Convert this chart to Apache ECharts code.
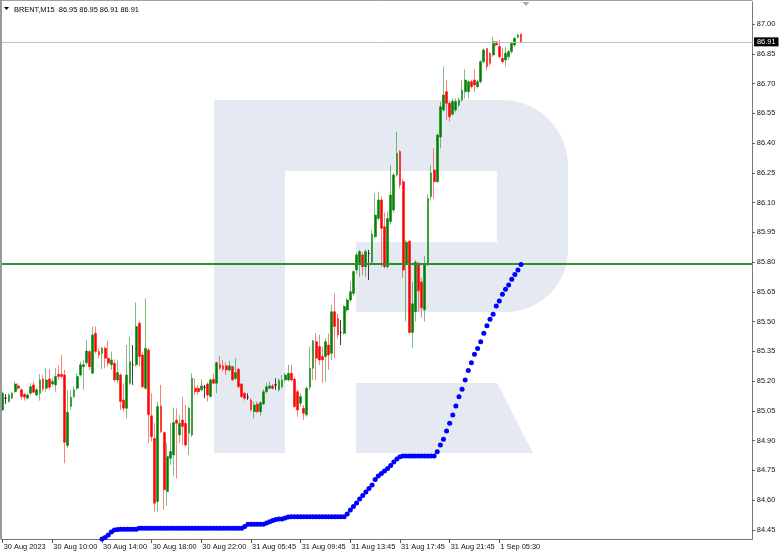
<!DOCTYPE html>
<html><head><meta charset="utf-8">
<script src="https://cdn.jsdelivr.net/npm/echarts@6/dist/echarts.min.js"></script>
<style>html,body{margin:0;padding:0;background:#fff}#c{width:782px;height:555px}</style>
</head><body><div id="c"></div>
<script>
// ---- data ----
const symbolName = 'BRENT,M15';
const tickLabels = ['30 Aug 2023','30 Aug 10:00','30 Aug 14:00','30 Aug 18:00','30 Aug 22:00','31 Aug 05:45','31 Aug 09:45','31 Aug 13:45','31 Aug 17:45','31 Aug 21:45','1 Sep 05:30'];
const barsPerTick = 16;
const slotCount = 242; // bars + right-side chart shift
const priceTicks = [84.45,84.60,84.75,84.90,85.05,85.20,85.35,85.50,85.65,85.80,85.95,86.10,86.25,86.40,86.55,86.70,86.85,87.00];
const levelLine = 85.793;

const open = [
85.055,85.114,85.097,85.114,85.147,85.176,85.156,85.134,
85.114,85.139,85.181,85.130,85.139,85.211,85.164,85.211,
85.186,85.181,85.234,85.234,85.231,84.875,85.072,85.122,
85.164,85.231,85.273,85.293,85.349,85.240,85.441,85.349,
85.340,85.366,85.315,85.282,85.290,85.206,85.231,85.105,
85.063,85.189,85.282,85.282,85.492,85.332,85.164,85.357,
85.025,84.912,84.593,85.075,84.941,84.643,84.811,84.828,
85.004,84.929,85.004,84.988,84.937,84.929,85.164,85.164,
85.156,85.169,85.186,85.122,85.209,85.189,85.282,85.277,
85.277,85.256,85.273,85.214,85.260,85.186,85.139,85.119,
85.105,85.046,85.085,85.046,85.085,85.147,85.164,85.176,
85.181,85.156,85.172,85.206,85.206,85.240,85.209,85.147,
85.088,85.063,85.030,85.169,85.265,85.399,85.374,85.324,
85.324,85.382,85.340,85.550,85.517,85.445,85.441,85.559,
85.609,85.642,85.760,85.794,85.836,85.777,85.844,85.800,
85.928,86.020,86.113,85.978,85.777,86.004,86.062,86.239,
86.357,86.205,85.790,85.905,85.445,85.550,85.785,85.700,
85.560,85.790,86.130,86.264,86.205,86.430,86.567,86.659,
86.600,86.545,86.567,86.592,86.617,86.659,86.659,86.709,
86.718,86.684,86.709,86.810,86.877,86.852,86.844,86.911,
86.886,86.827,86.819,86.835,86.861,86.894,86.933,86.950];
const high = [
85.147,85.135,85.139,85.147,85.198,85.189,85.164,85.139,
85.139,85.189,85.198,85.164,85.236,85.231,85.265,85.260,
85.214,85.265,85.277,85.332,85.256,85.156,85.156,85.172,
85.240,85.298,85.307,85.408,85.357,85.475,85.475,85.366,
85.374,85.374,85.404,85.349,85.310,85.307,85.240,85.189,
85.382,85.424,85.382,85.596,85.500,85.349,85.618,85.366,
85.139,84.988,85.097,85.181,84.946,84.887,84.988,85.067,
85.063,85.030,85.122,85.080,85.072,85.240,85.214,85.180,
85.209,85.181,85.193,85.214,85.236,85.298,85.327,85.307,
85.293,85.303,85.277,85.315,85.265,85.189,85.147,85.139,
85.114,85.097,85.097,85.097,85.159,85.193,85.198,85.186,
85.214,85.214,85.231,85.240,85.282,85.282,85.223,85.156,
85.139,85.080,85.172,85.374,85.408,85.441,85.433,85.374,
85.416,85.441,85.584,85.643,85.542,85.508,85.584,85.618,
85.702,85.760,85.845,85.860,85.848,85.866,85.861,85.960,
86.146,86.155,86.130,86.050,86.054,86.289,86.250,86.457,
86.365,86.220,85.910,85.910,85.700,85.810,85.800,85.720,
85.830,86.140,86.290,86.373,86.450,86.609,86.785,86.718,
86.609,86.625,86.625,86.630,86.718,86.772,86.718,86.718,
86.772,86.718,86.819,86.877,86.877,86.860,86.936,86.911,
86.919,86.877,86.886,86.870,86.911,86.936,86.950,86.950];
const low = [
85.051,85.085,85.092,85.110,85.139,85.156,85.108,85.102,
85.108,85.130,85.139,85.126,85.102,85.147,85.147,85.156,
85.172,85.147,85.206,85.214,84.786,84.862,85.055,85.114,
85.156,85.223,85.156,85.282,85.256,85.236,85.340,85.315,
85.260,85.265,85.273,85.256,85.198,85.189,85.055,85.046,
85.013,85.181,85.181,85.273,85.273,85.164,85.156,84.887,
84.895,84.542,84.542,84.937,84.551,84.571,84.778,84.719,
84.710,84.887,84.878,84.870,84.828,84.920,85.130,85.130,
85.147,85.114,85.097,85.119,85.186,85.139,85.256,85.248,
85.231,85.248,85.203,85.206,85.164,85.114,85.102,85.105,
85.046,85.013,85.038,85.025,85.080,85.139,85.159,85.156,
85.156,85.147,85.164,85.198,85.198,85.198,85.063,85.021,
85.072,85.004,85.021,85.156,85.206,85.206,85.282,85.189,
85.198,85.256,85.307,85.315,85.416,85.382,85.433,85.550,
85.600,85.630,85.740,85.726,85.735,85.727,85.710,85.790,
85.920,86.010,85.777,85.768,85.768,85.990,86.050,86.230,
86.172,85.720,85.500,85.440,85.367,85.500,85.550,85.520,
85.500,85.780,86.110,86.121,86.200,86.373,86.558,86.516,
86.508,86.540,86.555,86.580,86.609,86.625,86.625,86.675,
86.659,86.675,86.700,86.802,86.768,86.790,86.835,86.886,
86.827,86.802,86.785,86.820,86.852,86.886,86.928,86.910];
const close = [
85.139,85.114,85.130,85.139,85.186,85.164,85.122,85.119,
85.130,85.172,85.144,85.156,85.206,85.159,85.206,85.169,
85.198,85.223,85.223,85.223,84.892,85.043,85.119,85.156,
85.223,85.282,85.282,85.352,85.273,85.433,85.349,85.332,
85.366,85.315,85.290,85.307,85.206,85.243,85.097,85.063,
85.231,85.298,85.282,85.475,85.324,85.172,85.366,85.030,
84.920,84.584,85.072,84.946,84.652,84.820,84.845,84.991,
84.988,84.988,84.971,84.878,85.063,85.214,85.147,85.147,
85.176,85.169,85.130,85.206,85.189,85.293,85.265,85.260,
85.256,85.277,85.206,85.243,85.172,85.122,85.114,85.119,
85.055,85.080,85.046,85.092,85.147,85.172,85.176,85.164,
85.181,85.203,85.206,85.231,85.240,85.206,85.072,85.055,
85.122,85.038,85.164,85.265,85.403,85.315,85.307,85.307,
85.399,85.332,85.550,85.475,85.433,85.445,85.576,85.609,
85.651,85.752,85.836,85.853,85.777,85.853,85.844,85.940,
86.037,86.113,85.970,85.777,86.020,86.138,86.239,86.348,
86.189,85.760,85.900,85.445,85.590,85.800,85.655,85.570,
85.790,86.120,86.250,86.205,86.440,86.583,86.642,86.600,
86.533,86.610,86.609,86.617,86.667,86.718,86.709,86.684,
86.693,86.709,86.810,86.869,86.785,86.802,86.911,86.894,
86.835,86.810,86.852,86.861,86.903,86.928,86.945,86.910];
// dotted indicator, one value per bar (null = not drawn)
const dots = [
null,null,null,null,null,null,null,null,null,null,
null,null,null,null,null,null,null,null,null,null,
null,null,null,null,null,null,null,null,null,null,
84.394,84.399,84.404,84.412,84.424,84.439,84.450,84.452,
84.453,84.453,84.453,84.453,84.453,84.453,
84.458,84.458,84.458,84.458,84.458,84.458,84.458,84.458,84.458,84.458,
84.458,84.458,84.458,84.458,84.458,84.458,84.458,84.458,84.458,84.458,
84.458,84.458,84.458,84.458,84.458,84.458,84.458,84.458,84.458,84.458,
84.458,84.458,84.458,84.458,
84.467,
84.478,84.478,84.478,84.478,84.478,84.478,
84.485,84.491,84.497,84.502,84.505,84.505,84.510,84.515,
84.516,84.516,84.516,84.516,84.516,84.516,84.516,84.516,84.516,
84.516,84.516,84.516,84.516,84.516,84.516,84.516,84.516,84.516,
84.530,84.550,84.568,84.586,84.606,84.624,84.641,84.659,84.676,
84.704,84.722,84.734,84.747,84.760,84.775,84.792,84.807,84.819,
84.823,84.823,84.823,84.823,84.823,84.823,84.823,84.823,84.823,84.823,84.823,
84.844,84.878,84.907,84.949,84.987,85.029,85.075,85.121,85.159,85.206,
85.253,85.293,85.335,85.365,85.399,85.441,85.479,85.512,85.537,85.579,
85.604,85.638,85.663,85.684,85.713,85.738,85.760,85.788];

// ---- chart ----
const n = open.length;
const lastPrice = close[n - 1];
const titleText = symbolName + '  ' + [open[n-1], high[n-1], low[n-1], close[n-1]].map(v => v.toFixed(2)).join(' ');
const slots = Array.from({length: slotCount}, (_, i) => String(i));
const candles = open.map((o, i) => [o, close[i], low[i], high[i]]);
const dotData = dots.map((v, i) => v == null ? null : [i, v]).filter(d => d);
const FONT = 'Liberation Sans, Arial, sans-serif';
const FS = 7.4;
const isTick = (idx) => idx % barsPerTick === 0 && idx / barsPerTick < tickLabels.length;
const WM = '#e5eaf2';

const chart = echarts.init(document.getElementById('c'), null, {renderer: 'canvas'});
chart.setOption({
  animation: false,
  backgroundColor: '#ffffff',
  textStyle: {fontFamily: FONT},
  grid: {left: 1.15, right: 29.7, top: 2, bottom: 16, containLabel: false},
  xAxis: {
    type: 'category', data: slots, boundaryGap: true,
    axisLine: {show: true, lineStyle: {color: '#777', width: 1}},
    axisTick: {show: true, alignWithLabel: true, length: 4, interval: (i) => isTick(i), lineStyle: {color: '#555'}},
    axisLabel: {show: true, interval: (i) => isTick(i), formatter: (v, i) => tickLabels[i / barsPerTick] || '',
      align: 'left', margin: 4, fontSize: FS, color: '#111', fontFamily: FONT, padding: [0,0,0,1]},
    splitLine: {show: false}
  },
  yAxis: {
    type: 'value', position: 'right', min: 84.4042, max: 87.1109, scale: true,
    axisLine: {show: true, lineStyle: {color: '#777', width: 1}},
    axisTick: {show: true, length: 2.5, customValues: priceTicks, lineStyle: {color: '#555'}},
    axisLabel: {show: true, customValues: priceTicks, formatter: (v) => v.toFixed(2), margin: 4.5,
      fontSize: FS, color: '#111', fontFamily: FONT},
    splitLine: {show: false}
  },
  graphic: [
    {type: 'rect', silent: true, z: -10, shape: {x: 214, y: 100, width: 354, height: 212, r: [0, 66, 62, 0]}, style: {fill: WM}},
    {type: 'rect', silent: true, z: -10, shape: {x: 214, y: 100, width: 71, height: 353}, style: {fill: WM}},
    {type: 'rect', silent: true, z: -9, shape: {x: 285, y: 171, width: 212, height: 71}, style: {fill: '#ffffff'}},
    {type: 'rect', silent: true, z: -9, shape: {x: 285, y: 171, width: 71, height: 282}, style: {fill: '#ffffff'}},
    {type: 'polygon', silent: true, z: -8, shape: {points: [[356,383],[497,383],[533,453],[356,453]]}, style: {fill: WM}},
    {type: 'line', silent: true, z: 50, shape: {x1: 0, y1: 0.5, x2: 752.5, y2: 0.5}, style: {stroke: '#a0a0a0', lineWidth: 1}},
    {type: 'line', silent: true, z: 50, shape: {x1: 1, y1: 0, x2: 1, y2: 539}, style: {stroke: '#9a9a9a', lineWidth: 2}},
    {type: 'polygon', silent: true, z: 50, shape: {points: [[4,7],[9,7],[6.5,10]]}, style: {fill: '#000'}},
    {type: 'text', silent: true, z: 50, x: 14, y: 9.5, style: {text: titleText, fill: '#000', font: FS + 'px ' + FONT, verticalAlign: 'middle'}},
    {type: 'polygon', silent: true, z: 50, shape: {points: [[522.5,2],[529.5,2],[526,6]]}, style: {fill: '#a8a8a8'}}
  ],
  series: [
    {
      type: 'candlestick', data: candles, barWidth: 2.3, z: 2,
      itemStyle: {color: '#008000', color0: '#ff0000', borderColor: 'rgba(0,128,0,0.5)', borderColor0: 'rgba(255,0,0,0.5)', borderColorDoji: 'rgba(0,0,0,0.75)', borderWidth: 1},
      markLine: {
        silent: true, symbol: ['none', 'none'], animation: false,
        data: [
          {yAxis: levelLine, lineStyle: {color: '#2f8f2f', width: 2, type: 'solid'}, label: {show: false}},
          {yAxis: lastPrice, lineStyle: {color: '#c0c0c0', width: 1, type: 'solid'},
            label: {show: true, position: 'end', distance: 1.7, formatter: lastPrice.toFixed(2), backgroundColor: '#000', color: '#fff', fontSize: FS, fontFamily: FONT, padding: [1, 3, 1, 3]}}
        ]
      }
    },
    {
      type: 'scatter', data: dotData, symbol: 'circle', symbolSize: 5, z: 5,
      itemStyle: {color: '#0000ff', opacity: 1}, clip: true
    }
  ]
});
</script>
</body></html>
